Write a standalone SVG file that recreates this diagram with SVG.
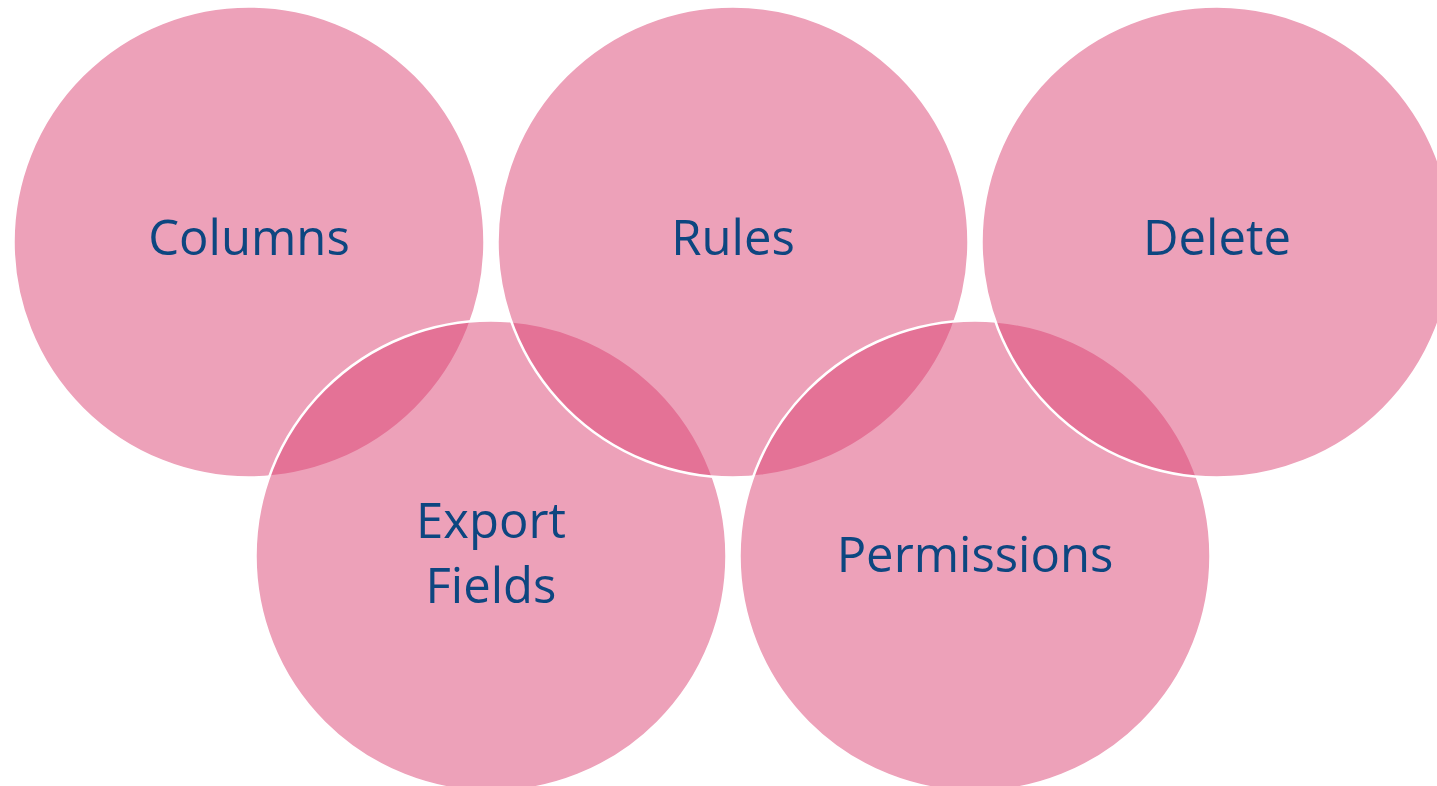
<svg xmlns="http://www.w3.org/2000/svg" width="1437" height="786" viewBox="0 0 1437 786">
<style>
.c{fill:#DB4373;fill-opacity:0.5;stroke:#FFFFFF;stroke-width:2.5}
.t{font-family:"Open Sans","Noto Sans",sans-serif;font-size:49px;fill:#0D4680;text-anchor:middle}
</style>
<rect width="1437" height="786" fill="#FFFFFF"/>
<g id="connectors"></g>
<g id="node-columns"><circle class="c" cx="249" cy="242" r="235.5"/><text class="t" x="249" y="255">Columns</text></g>
<g id="node-export"><circle class="c" cx="491" cy="556" r="235.5"/><text class="t" x="491" y="538">Export</text><text class="t" x="491" y="603">Fields</text></g>
<g id="node-rules"><circle class="c" cx="733" cy="242" r="235.5"/><text class="t" x="733" y="255">Rules</text></g>
<g id="node-permissions"><circle class="c" cx="975" cy="556" r="235.5"/><text class="t" x="975" y="572">Permissions</text></g>
<g id="node-delete"><circle class="c" cx="1217" cy="242" r="235.5"/><text class="t" x="1217" y="255">Delete</text></g>
</svg>
